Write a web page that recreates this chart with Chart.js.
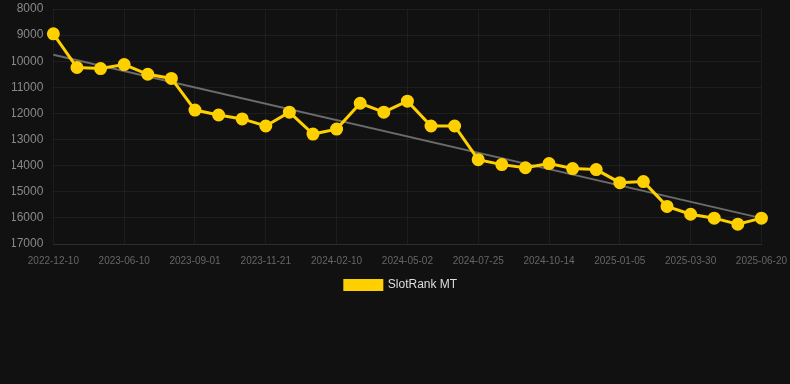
<!DOCTYPE html>
<html>
<head>
<meta charset="utf-8">
<script src="https://cdn.jsdelivr.net/npm/chart.js@4"></script>
<style>
  html, body { margin: 0; padding: 0; background: #111111; }
  .wrap { position: relative; width: 790px; height: 301px; }
</style>
</head>
<body>
<div class="wrap"><canvas id="rankChart"></canvas></div>
<script>
// fechas de cada medición — solo se muestra una de cada tres en el eje
const dates = [
  '2022-12-10', '2023-02-10', '2023-04-10',
  '2023-06-10', '2023-07-08', '2023-08-04',
  '2023-09-01', '2023-09-28', '2023-10-25',
  '2023-11-21', '2023-12-18', '2024-01-14',
  '2024-02-10', '2024-03-08', '2024-04-04',
  '2024-05-02', '2024-05-30', '2024-06-27',
  '2024-07-25', '2024-08-21', '2024-09-17',
  '2024-10-14', '2024-11-10', '2024-12-08',
  '2025-01-05', '2025-02-02', '2025-03-02',
  '2025-03-30', '2025-04-26', '2025-05-23',
  '2025-06-20',
];

const rankValues = [
  8950, 10240, 10280, 10130, 10500, 10660, 11870, 12060, 12210, 12480,
  11950, 12790, 12600, 11610, 11950, 11530, 12480, 12480, 13770, 13960,
  14080, 13920, 14110, 14150, 14650, 14610, 15560, 15860, 16010, 16240,
  16010,
];

// línea de tendencia: solo extremos
const trendDates  = ['2022-12-10', '2025-06-20'];
const trendValues = [9750, 16010];

const yTicks = [8000, 9000, 10000, 11000, 12000, 13000, 14000, 15000, 16000, 17000];

const FONT = 'Liberation Sans, Arial, Helvetica, sans-serif';

new Chart(document.getElementById('rankChart'), {
  type: 'line',
  data: {
    labels: dates,
    datasets: [
      {
        label: 'SlotRank MT',
        data: rankValues,
        borderColor: '#FFD000',
        backgroundColor: '#FFD000',
        borderWidth: 3,
        pointRadius: 5,
        pointHoverRadius: 6,
        pointBackgroundColor: '#FFD000',
        pointBorderColor: '#FFD000',
        tension: 0,
        order: 1,
      },
      {
        label: 'trend',
        data: trendDates.map((d, i) => ({ x: d, y: trendValues[i] })),
        borderColor: '#6b6b6b',
        borderWidth: 2,
        pointRadius: 0,
        fill: false,
        order: 2,
      },
    ],
  },
  options: {
    responsive: true,
    maintainAspectRatio: false,
    animation: false,
    layout: { padding: { left: 12 } },
    plugins: {
      legend: {
        position: 'bottom',
        labels: {
          color: '#dddddd',
          font: { family: FONT, size: 12 },
          // el borde de 3px del dataset suma al tamaño de la caja
          boxWidth: 37,
          boxHeight: 9,
          padding: 9,
          filter: item => item.text !== 'trend',
        },
      },
      tooltip: { enabled: false },
    },
    // el hueco entre etiquetas y área va casi todo en tickLength (transparente):
    // ticks.padding también se suma arriba/derecha y descuadra el área
    scales: {
      x: {
        grid: { color: 'rgba(255,255,255,0.05)', tickLength: 8, tickColor: 'transparent' },
        border: { color: 'rgba(255,255,255,0.08)' },
        ticks: {
          color: '#666666',
          font: { family: FONT, size: 10 },
          padding: 3,
          autoSkip: false,
          maxRotation: 0,
          callback: (v, i) => (i % 3 === 0 ? dates[i] : null),
        },
      },
      y: {
        reverse: true,
        min: 8000,
        max: 17000,
        afterBuildTicks: axis => { axis.ticks = yTicks.map(v => ({ value: v })); },
        grid: { color: 'rgba(255,255,255,0.05)', tickLength: 12, tickColor: 'transparent' },
        border: { display: false },
        ticks: {
          color: '#888888',
          font: { family: FONT, size: 12, lineHeight: 1 },
          padding: -2,
          callback: v => String(v),
        },
      },
    },
  },
});
</script>
</body>
</html>
